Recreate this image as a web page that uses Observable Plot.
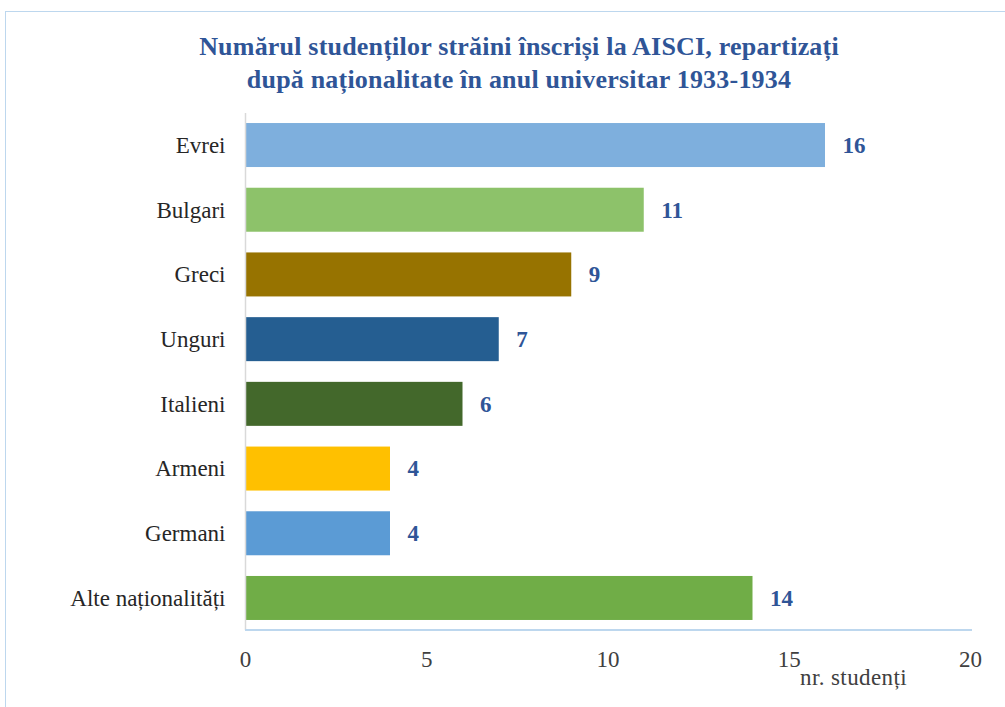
<!DOCTYPE html>
<html>
<head>
<meta charset="utf-8">
<script src="https://cdn.jsdelivr.net/npm/d3@7"></script>
<script src="https://cdn.jsdelivr.net/npm/@observablehq/plot@0.6"></script>
<style>
  html, body { margin: 0; padding: 0; background: #fff; }
  #wrap { position: relative; width: 1005px; height: 707px; overflow: hidden; font-family: "Liberation Serif", "Times New Roman", serif; }
  #frame { position: absolute; left: 5px; top: 11px; width: 1010px; height: 710px; border: 1px solid #BDD7EE; box-sizing: border-box; }
  #title { position: absolute; left: 0; width: 1038px; top: 30px; text-align: center; color: #2F5597; font-weight: bold; font-size: 26px; line-height: 33px; letter-spacing: 0.2px; }
  #unit { position: absolute; left: 800px; top: 665px; font-size: 23px; color: #404040; letter-spacing: 0.4px; }
  #chart { position: absolute; left: 0; top: 0; }
</style>
</head>
<body>
<div id="wrap">
  <div id="frame"></div>
  <div id="chart"></div>
  <div id="title">Numărul studenților străini înscriși la AISCI, repartizați<br>după naționalitate în anul universitar 1933-1934</div>
  <div id="unit">nr. studenți</div>
</div>
<script>
const categories = ["Evrei", "Bulgari", "Greci", "Unguri", "Italieni", "Armeni", "Germani", "Alte naționalități"];
const values = [16, 11, 9, 7, 6, 4, 4, 14];
const colors = ["#7EAFDD", "#8DC26A", "#977300", "#255E91", "#43682B", "#FFC000", "#5B9BD5", "#70AD47"];
const xTicks = [0, 5, 10, 15, 20];

const data = categories.map((c, i) => ({cat: c, value: values[i], color: colors[i]}));

const plot = Plot.plot({
  width: 1005,
  height: 707,
  marginLeft: 245,
  marginRight: 35,
  marginTop: 113,
  marginBottom: 77,
  style: {background: "transparent", fontFamily: "Liberation Serif, Times New Roman, serif", fontSize: "23px", color: "#262626"},
  x: {domain: [0, 20], ticks: xTicks, label: null},
  y: {domain: categories, paddingInner: 0.32, paddingOuter: 0.155, round: false, label: null},
  marks: [
    Plot.barX(data, {x: "value", y: "cat", fill: "color"}),
    Plot.ruleX([0], {stroke: "#D9D9D9", strokeWidth: 1.5}),
    Plot.axisX({ticks: xTicks, tickSize: 0, tickPadding: 20, fontSize: 23, fill: "#404040", label: null}),
    Plot.axisY({tickSize: 0, tickPadding: 20, fontSize: 23, fill: "#262626", label: null}),
    Plot.text(data, {x: "value", y: "cat", text: d => String(d.value), dx: 17, textAnchor: "start", fill: "#2F5597", fontWeight: "bold", fontSize: 23})
  ]
});
document.getElementById("chart").appendChild(plot);

// bottom axis line (light blue) drawn via the x scale
const xs = plot.scale("x");
const svg = d3.select(plot);
svg.append("line")
  .attr("x1", xs.apply(0)).attr("x2", xs.apply(20) + 2)
  .attr("y1", 707 - 77).attr("y2", 707 - 77)
  .attr("stroke", "#BDD7EE").attr("stroke-width", 2);
</script>
</body>
</html>
